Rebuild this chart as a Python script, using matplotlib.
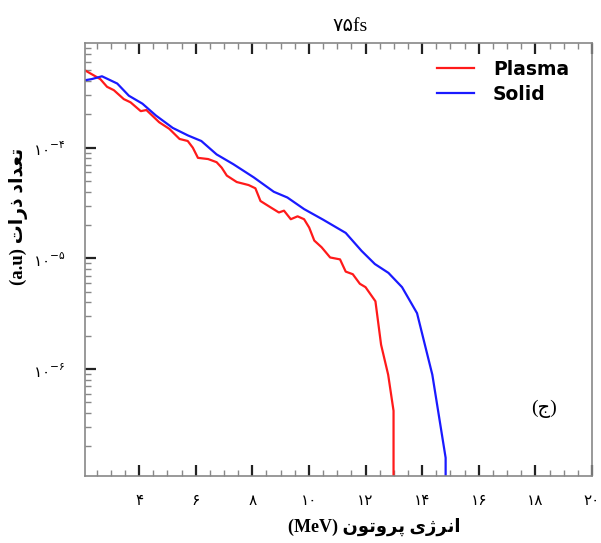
import matplotlib
matplotlib.use("Agg")
import matplotlib.pyplot as plt
from matplotlib.ticker import MultipleLocator, FixedLocator, LogLocator, NullFormatter

plt.rcParams["font.family"] = ["DejaVu Sans"]
plt.rcParams["mathtext.fontset"] = "dejavusans"

# Plasma spectrum (energy in MeV, counts in a.u.)
plasma_x = [2.09, 2.63, 2.87, 3.11, 3.46, 3.70, 4.06, 4.26, 4.71, 5.07, 5.43, 5.72,
            5.90, 6.08, 6.44, 6.74, 6.92, 7.10, 7.45, 7.87, 8.11, 8.29, 8.64, 8.94,
            9.12, 9.36, 9.60, 9.83, 10.01, 10.19, 10.45, 10.75, 11.10, 11.30, 11.55,
            11.80, 12.00, 12.35, 12.55, 12.80, 12.99, 12.99]
plasma_y = [5.0e-4, 4.17e-4, 3.55e-4, 3.31e-4, 2.75e-4, 2.57e-4, 2.14e-4, 2.19e-4,
            1.70e-4, 1.48e-4, 1.20e-4, 1.15e-4, 1.00e-4, 8.1e-5, 7.9e-5, 7.4e-5,
            6.6e-5, 5.6e-5, 4.9e-5, 4.6e-5, 4.3e-5, 3.3e-5, 2.9e-5, 2.6e-5, 2.7e-5,
            2.26e-5, 2.4e-5, 2.26e-5, 1.9e-5, 1.45e-5, 1.26e-5, 1.02e-5, 9.8e-6,
            7.6e-6, 7.2e-6, 5.9e-6, 5.5e-6, 4.1e-6, 1.66e-6, 8.9e-7, 4.2e-7, 3e-8]

# Solid spectrum
solid_x = [2.09, 2.33, 2.69, 3.23, 3.64, 4.12, 4.60, 5.19, 5.73, 6.20, 6.74, 7.33,
           8.05, 8.76, 9.24, 9.83, 10.50, 11.30, 11.86, 12.33, 12.81, 13.29, 13.82,
           14.36, 14.83, 14.83]
solid_y = [4.07e-4, 4.17e-4, 4.42e-4, 3.8e-4, 2.95e-4, 2.5e-4, 1.95e-4, 1.51e-4,
           1.29e-4, 1.15e-4, 8.7e-5, 7.1e-5, 5.4e-5, 4.0e-5, 3.55e-5, 2.79e-5,
           2.24e-5, 1.7e-5, 1.17e-5, 8.9e-6, 7.4e-6, 5.5e-6, 3.2e-6, 8.9e-7,
           1.58e-7, 3e-8]

# Persian digits
fa = str.maketrans("0123456789", "\u06f0\u06f1\u06f2\u06f3\u06f4\u06f5\u06f6\u06f7\u06f8\u06f9")
x_ticks = [4, 6, 8, 10, 12, 14, 16, 18, 20]
x_labels = [str(v).translate(fa) for v in x_ticks]
y_ticks = [1e-6, 1e-5, 1e-4]
y_labels = [r"$\mathregular{%s^{-%s}}$" % ("10".translate(fa), str(e).translate(fa))
            for e in (6, 5, 4)]

# pre-shaped (visual order) Persian words
w_energy = "\ufbfc\ufb8a\ufeae\ufee7\ufe8d"          # انرژی
w_proton = "\ufee5\ufeee\ufe97\ufeed\ufeae\ufb58"    # پروتون
w_count = "\ufea9\ufe8d\ufeaa\ufecc\ufe97"           # تعداد
w_part = "\ufe95\ufe8d\ufead\ufeab"                  # ذرات
xlabel = "(MeV) " + w_proton + " " + w_energy
ylabel = "(a.u) " + w_part + " " + w_count
title = "75".translate(fa) + "fs"
panel = "(\ufe9d)"

fig = plt.figure(figsize=(6.01, 5.43), dpi=100)
ax = fig.add_axes([0.1414, 0.1225, 0.8436, 0.7983])

ax.plot(plasma_x, plasma_y, color="#ff1a1a", lw=1.6, label="Plasma")
ax.plot(solid_x, solid_y, color="#1a1aff", lw=1.6, label="Solid")

ax.set_yscale("log")
ax.set_xlim(2.09, 20)
ax.set_ylim(10 ** -6.97, 10 ** -3.054)

ax.xaxis.set_major_locator(FixedLocator(x_ticks))
ax.set_xticklabels(x_labels, fontsize=11)
ax.xaxis.set_minor_locator(MultipleLocator(0.5))
ax.yaxis.set_major_locator(FixedLocator(y_ticks))
ax.set_yticklabels(y_labels, fontsize=11)
ax.yaxis.set_minor_locator(LogLocator(base=10, subs=range(2, 10)))
ax.yaxis.set_minor_formatter(NullFormatter())

ax.tick_params(axis="x", which="both", direction="in", top=True, bottom=True, pad=12)
ax.tick_params(axis="y", which="both", direction="in", left=True, right=False, pad=14)
ax.tick_params(which="major", length=8, width=1.6, color="#222222")
ax.tick_params(which="minor", length=4, width=1.0, color="#888888")
for s in ax.spines.values():
    s.set_color("#888888")
    s.set_linewidth(1.2)

ax.set_title(title, family=["Liberation Serif", "DejaVu Sans"], fontsize=14,
             x=0.523, pad=9)
ax.set_xlabel(xlabel, family=["Liberation Serif", "DejaVu Sans"], fontsize=13,
              fontweight="bold")
ax.xaxis.set_label_coords(0.57, -0.095)
ax.set_ylabel(ylabel, family=["Liberation Serif", "DejaVu Sans"], fontsize=13.5,
              fontweight="bold")
ax.yaxis.set_label_coords(-0.112, 0.6)

ax.text(18.29, 10 ** -6.36, panel, family=["Liberation Serif", "DejaVu Sans"],
        fontsize=14, ha="center", va="center")

leg = ax.legend(loc="upper right", bbox_to_anchor=(0.988, 1.0), frameon=False,
                prop={"weight": "bold", "size": 13.5}, handlelength=2.0,
                handletextpad=1.0, labelspacing=0.3)

fig.savefig("out.png", dpi=100)
